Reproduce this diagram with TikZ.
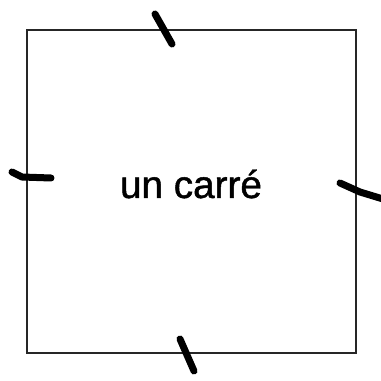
\documentclass[tikz,border=0pt]{standalone}
\usepackage{fontspec}
\setmainfont{Liberation Sans}
\newfontfamily\lblfont[FakeBold=1.2]{Liberation Sans}
\begin{document}
\begin{tikzpicture}[x=1pt,y=1pt,
  box/.style={draw=black!85,line width=2pt,minimum width=329pt,minimum height=323pt,inner sep=0pt},
  tick/.style={line width=7pt,line cap=round,line join=round},
  lbl/.style={font=\lblfont\fontsize{38.7}{40}\selectfont,inner sep=0pt,anchor=base}]
\useasboundingbox (0,0) rectangle (381,381);
\node[box] (sq) at (191.5,189.5) {};
\node[lbl] (t) at (191,183) {un carré};
\draw[tick] (155,367) -- (172,337);
\draw[tick] (12,209) -- (22,204) -- (51,203);
\draw[tick] (340,198) -- (360,189) -- (383,182);
\draw[tick] (180,42) -- (194,10);
\end{tikzpicture}
\end{document}
